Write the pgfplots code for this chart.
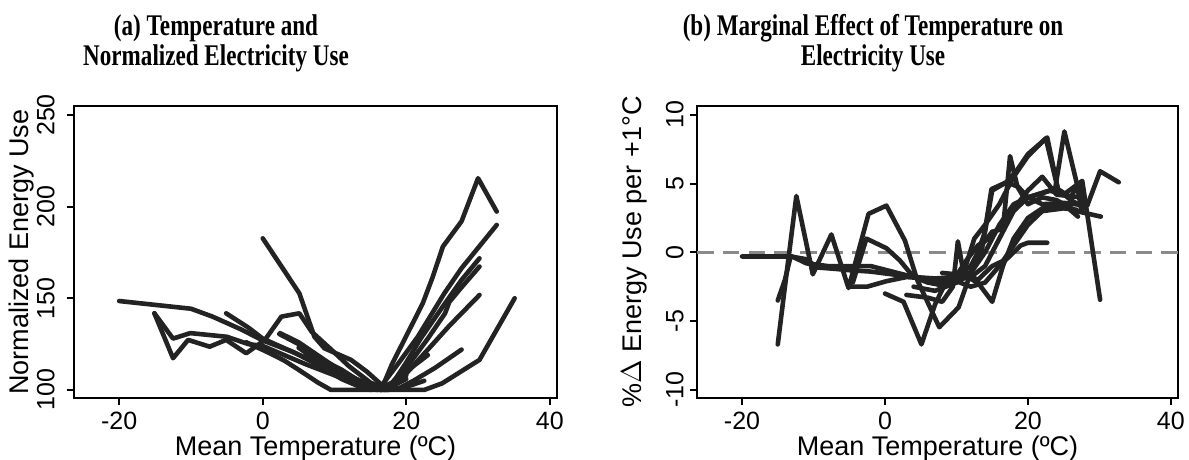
\documentclass[border=0pt]{standalone}
\usepackage{fontspec}
\setmainfont{Liberation Sans}
\newfontfamily\titlefont[FakeStretch=0.77]{Liberation Serif}
\usepackage{pgfplots}
\pgfplotsset{compat=1.18}
\definecolor{ln}{HTML}{232323}
\definecolor{zerogray}{HTML}{8A8A8A}

\pgfplotscreateplotcyclelist{dark}{ln,solid,mark=none,line width=2.3pt,line join=round,line cap=round\\}

\pgfplotsset{
  panel/.style={
    scale only axis,
    height=146pt,
    xmin=-26.3, xmax=41,
    xtick={-20,0,20,40},
    axis line style={draw=black, line width=1.1pt},
    every tick/.style={draw=black, line width=1.1pt},
    tick align=outside,
    major tick length=3.5pt,
    xtick pos=left, ytick pos=left,
    tick label style={font=\fontsize{12.5}{14}\selectfont},
    xticklabel style={anchor=base, yshift=-12.5pt},
    xlabel={Mean Temperature (ºC)},
    every axis x label/.style={at={(axis description cs:0.5,0)}, anchor=base, yshift=-29pt, font=\fontsize{13.5}{15}\selectfont},
    cycle list name=dark,
    /pgf/number format/assume math mode=true,
  },
}

\begin{document}
\begin{tikzpicture}
\useasboundingbox (0,0) rectangle (594.5pt,230pt);

% (a) normalized use
\begin{axis}[panel,
  at={(37pt,31pt)}, anchor=south west, width=241.5pt,
  ymin=95.6, ymax=254.9,
  ytick={100,150,200,250},
  yticklabel style={xshift=-6pt, rotate=90, anchor=south, inner sep=0pt},
  ylabel={Normalized Energy Use},
  every axis y label/.style={at={(axis description cs:-0.108,0.5)}, rotate=90, anchor=center, font=\fontsize{13.5}{15}\selectfont},
]
\addplot coordinates {(-20,148.5) (-10,144.3) (-7,140) (-3,133) (0,127) (4,121) (8,114) (12,107) (15,102) (16.5,100) (18,114) (20.2,131) (22.3,147.3) (23.7,161.8) (25.1,178.2) (27.7,192) (30,215.5) (32.6,197.3)};
\addplot coordinates {(-15.1,141.8) (-12.5,117.3) (-10.4,127.3) (-7.4,123.6) (-5.1,127.3) (-2.3,120) (0.3,127.3) (2.6,140) (5.1,141.8) (6.8,131.8) (9.6,121.8) (12,113) (15,104) (17.5,100) (20,109) (23,122) (26,135) (30.2,151.8)};
\addplot coordinates {(-15.1,141.8) (-12.5,128) (-10.1,131) (-5,129) (-2,125) (0,124) (3,119) (6,114) (10,108) (13,103) (15,100) (16.3,101) (18.9,114.5) (21.6,129) (25.3,152.7) (27.7,166.4) (32.6,190)};
\addplot coordinates {(0,182.7) (2.5,168) (5.1,152.7) (7.2,129) (8.6,122.7) (12.3,116.4) (14.5,110) (16.5,103) (17.5,100) (20,115) (22,128) (25,145) (27.7,160) (30.2,171.8)};
\addplot coordinates {(-5.1,141.8) (-2,134) (0,128) (4.6,120) (8,113) (11,106) (14,101) (16,100) (18,104) (20,112) (23,128) (25.4,141.8) (26,148) (27.7,156) (30.2,167.3)};
\addplot coordinates {(2.4,131) (5,126) (8,118) (11,110) (14,104) (17,100) (19,101) (21,105) (24,112) (27.7,122)};
\addplot coordinates {(5,123) (8,115) (11,106) (14,101) (17,100) (20,100) (22.5,100) (25,103.6) (30.2,116.4) (35.1,150)};
\addplot coordinates {(-2.3,126) (1,120) (3,116) (5,111) (7.7,104) (9.5,100) (13,100) (17,100) (19,100.5) (21,103) (22.5,105)};
\addplot coordinates {(2.3,130.5) (5,125) (8,117) (11,111) (13,106) (15,103) (16.5,101) (18,102) (20,106)};
\addplot coordinates {(6,120) (9,112) (12,105) (14,102) (16.5,100) (18,103) (20,108)};
\addplot coordinates {(8,116) (10,110) (13,104) (15,101) (16.5,100) (19,106) (21,113) (23,119)};
\end{axis}
\node[font=\titlefont\bfseries\fontsize{15}{15}\selectfont, align=center] at (108pt,208.5pt) {(a) Temperature and\\Normalized Electricity Use};

% (b) marginal effect
\begin{axis}[panel,
  at={(348.5pt,31pt)}, anchor=south west, width=240.5pt,
  ymin=-10.6, ymax=10.65,
  ytick={-10,-5,0,5,10},
  yticklabel style={xshift=-3pt, rotate=90, anchor=south, inner sep=0pt},
  ylabel={\%$\Delta$ Energy Use per +1°C},
  every axis y label/.style={at={(axis description cs:-0.131,0.5)}, rotate=90, anchor=center, font=\fontsize{13.5}{15}\selectfont},
]
\addplot[zerogray, line width=1.6pt, line cap=butt, dash pattern=on 8.3pt off 4.6pt] coordinates {(-26.3,0) (41,0)};
\addplot coordinates {(-20,-0.3) (-17,-0.3) (-13,-0.3) (-11,-0.8) (-8,-1.0) (-5,-1.0) (-2,-1.0) (1,-1.4) (4,-1.8) (7,-2.0) (10,-2.0) (12,-1.8) (14,-1.0) (16,1.0) (18,3.0) (20,4.0) (23,4.5) (25,4.2) (27.6,5.2) (30.1,-3.45)};
\addplot coordinates {(-15,-6.7) (-14,-2.5) (-12.4,4.1) (-10.1,-1.6) (-7.5,1.3) (-5.1,-2.6) (-2.3,2.8) (0.2,3.4) (2.8,0.85) (4.5,-2.0) (7.6,-5.45) (10.3,-4.0) (12,-1.5) (14,1.5) (15,4.5) (17,5.1) (18.5,4.8) (20,3.5) (22,4) (24,3.8) (26.8,3.0) (30.2,2.6)};
\addplot coordinates {(-15,-3.5) (-14,-2) (-13.2,-0.3) (-11,-0.5) (-9.5,-1.1) (-7,-1.2) (-5,-1.3) (-2,-1.4) (1,-1.6) (4,-1.8) (7,-1.9) (10,-1.8) (12,-1.0) (13.5,0.5) (15,1.5) (16.5,1.7) (17.5,7.0) (18.5,4.85) (20,4.0) (22,3.5) (25,3.6) (28.3,3.4) (30.1,5.9) (32.7,5.1)};
\addplot coordinates {(-4.5,-2.2) (-2.6,1.0) (0.2,0.3) (2.1,-0.6) (4,-1.8) (6,-2.2) (8,-2.4) (10,-2.2) (11,-1.5) (12.5,1.0) (14,2.0) (16,3.5) (18,5.5) (20,7.0) (22.5,8.3) (24.2,4.6) (26,3.8) (28,3.2)};
\addplot coordinates {(4,-2.5) (7,-2.8) (10,-2.2) (12,-1.5) (14,0) (16,2.0) (18,3.5) (20,4.0) (22,4.3) (23.8,4.6) (25.1,8.8) (26.8,5.1) (27.5,3.0)};
\addplot coordinates {(-5,-2.5) (-2.5,-2.5) (0.2,-2.1) (3,-1.8) (6,-1.9) (8,-2.1) (10,-1.7) (11.5,-0.5) (13,0.5) (15,1.2) (17,2.5) (20,4.5) (22,5.5) (24,4.2) (27.4,4.0)};
\addplot coordinates {(0,-3.0) (2.6,-3.6) (5.1,-6.7) (7,-3.8) (8.5,-2.2) (10,-2.0) (11.5,-1.8) (13,-2.2) (15,-3.6) (16.5,-1.0) (18,1.0) (20,2.5) (22,3.2) (25,3.5) (27,2.6)};
\addplot coordinates {(3,-3.1) (6,-3.3) (8,-3.6) (9.5,-2.5) (10.2,0.8) (11,-1.5) (13,-2) (15,-1.0) (17,-0.5) (19,0.5) (20,0.7) (22.7,0.7)};
\addplot coordinates {(8,-1.5) (10,-1.6) (12,-1.5) (13.5,0) (14.9,4.6) (17,5.1) (18.5,6.0) (20,7.15) (22.7,8.36) (24.2,4.6) (26,4.0) (27,5.0) (28,3.5)};
\addplot coordinates {(10,-2.1) (12,-2.5) (14,-2.2) (16,-1) (18,0.5) (20,2) (22,3) (25,3.2) (26.8,3.1)};
\end{axis}
\node[font=\titlefont\bfseries\fontsize{15}{15}\selectfont, align=center] at (436.5pt,208.5pt) {(b) Marginal Effect of Temperature on\\Electricity Use};
\end{tikzpicture}
\end{document}
